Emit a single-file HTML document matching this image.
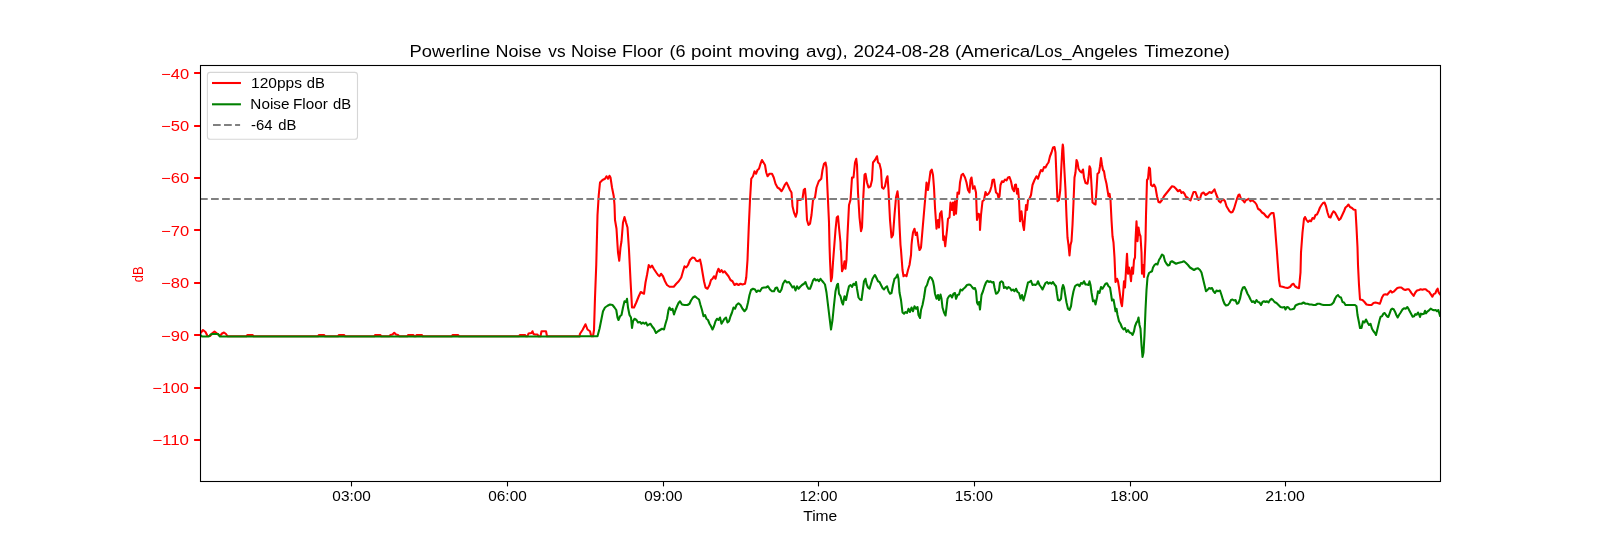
<!DOCTYPE html>
<html><head><meta charset="utf-8"><title>Powerline Noise vs Noise Floor</title>
<style>html,body{margin:0;padding:0;background:#fff;}svg{display:block;will-change:transform;}text{font-family:"Liberation Sans",sans-serif;}</style></head>
<body>
<svg width="1600" height="540" viewBox="0 0 1600 540">
<rect x="0" y="0" width="1600" height="540" fill="#ffffff"/>
<defs><clipPath id="ax"><rect x="200" y="65" width="1240.5" height="416.5"/></clipPath></defs>
<g clip-path="url(#ax)" fill="none" stroke-linejoin="round">
<path d="M200.00,333.75 L203.00,330.00 L205.50,332.00 L207.50,336.00 L210.00,336.00 L212.50,333.00 L214.50,331.50 L217.00,333.50 L220.00,336.00 L222.00,333.50 L224.00,332.50 L226.00,334.00 L227.50,336.25 L246.50,336.25 L247.50,335.00 L252.50,335.00 L253.50,336.25 L318.00,336.25 L319.00,335.00 L324.00,335.00 L325.00,336.25 L338.00,336.25 L339.00,335.00 L344.00,335.00 L345.00,336.25 L374.25,336.25 L375.25,335.00 L380.25,335.00 L381.25,336.25 L389.25,336.25 L390.50,335.00 L392.50,334.50 L394.25,332.75 L396.00,334.50 L398.00,335.00 L399.25,336.25 L407.25,336.25 L408.25,335.00 L413.25,335.00 L414.25,336.25 L415.75,336.25 L416.75,335.00 L421.75,335.00 L422.75,336.25 L451.75,336.25 L452.75,335.00 L458.00,335.00 L459.00,336.25 L519.00,336.25 L520.00,335.00 L525.00,335.00 L526.00,336.25 L527.50,336.25 L528.50,333.50 L531.50,333.00 L532.50,331.25 L533.50,334.00 L535.00,334.50 L537.50,334.50 L538.50,336.25 L540.50,336.25 L541.50,331.25 L546.00,331.25 L547.00,336.25 L579.50,336.25 L580.00,333.75 L582.50,330.00 L585.50,324.25 L587.50,329.50 L590.00,331.25 L591.25,336.25 L593.00,336.25 L594.00,330.00 L595.00,297.50 L596.25,265.00 L597.50,215.00 L598.75,195.00 L600.00,182.50 L602.50,180.00 L605.00,178.75 L606.50,176.25 L608.00,178.75 L609.50,175.75 L610.50,177.50 L612.00,187.50 L613.75,196.25 L614.50,205.00 L615.00,220.00 L616.50,228.75 L617.50,245.00 L618.00,252.50 L619.25,260.75 L620.50,247.50 L621.50,241.25 L623.00,222.50 L624.50,217.00 L626.00,222.50 L627.50,227.50 L628.50,242.50 L629.00,250.00 L630.50,280.00 L632.00,307.50 L634.00,307.50 L636.25,302.50 L638.75,296.25 L640.75,292.00 L642.50,293.00 L644.00,293.75 L645.50,282.50 L647.00,275.00 L648.75,265.00 L650.50,267.50 L652.00,265.50 L653.75,268.75 L656.25,272.50 L658.00,275.00 L659.50,276.25 L661.00,273.75 L663.00,276.25 L665.00,281.25 L667.00,285.00 L669.50,286.75 L673.75,286.75 L676.25,283.75 L678.75,281.25 L681.25,277.50 L683.00,271.25 L684.50,266.25 L686.25,267.50 L688.00,265.00 L690.00,260.00 L692.50,257.50 L694.50,258.00 L696.25,260.75 L698.00,261.25 L700.00,259.50 L701.25,265.00 L702.50,272.50 L704.00,281.25 L705.50,287.50 L707.50,288.75 L709.50,285.00 L711.00,280.00 L712.50,278.75 L714.00,276.25 L715.50,278.75 L717.00,272.50 L718.50,268.75 L720.00,272.00 L721.50,270.00 L723.00,272.50 L724.50,271.25 L726.50,273.75 L728.50,276.25 L730.50,280.00 L732.50,281.25 L734.50,285.00 L736.50,283.75 L738.50,285.00 L740.50,283.75 L742.50,284.50 L745.00,283.75 L746.25,277.50 L747.50,260.00 L748.75,227.50 L750.00,200.00 L751.25,178.75 L753.00,176.25 L754.50,171.25 L756.00,173.75 L757.50,170.00 L759.00,168.75 L760.50,163.75 L762.00,160.00 L763.50,162.50 L765.00,165.00 L766.25,172.50 L767.50,176.25 L769.50,173.75 L772.00,173.75 L773.75,177.50 L775.50,183.75 L777.50,187.50 L779.50,188.75 L781.50,191.25 L783.00,188.75 L785.00,184.50 L786.50,182.50 L788.00,185.50 L790.00,190.00 L791.50,192.50 L792.50,206.25 L794.00,212.50 L795.75,216.75 L797.00,212.50 L797.50,200.00 L800.00,200.00 L802.50,198.75 L803.75,190.00 L805.00,188.75 L806.00,200.00 L807.00,220.00 L808.50,225.00 L810.00,223.75 L811.50,215.00 L813.00,200.00 L815.00,197.50 L816.50,187.50 L818.75,181.25 L821.25,178.75 L822.50,170.00 L824.00,163.75 L825.50,162.50 L826.50,167.50 L827.50,190.00 L829.00,222.50 L829.50,245.00 L830.00,260.00 L831.00,281.25 L832.00,277.50 L833.00,262.50 L833.75,252.50 L835.50,230.00 L836.75,217.50 L838.00,216.25 L839.00,227.50 L840.50,242.50 L840.75,250.00 L841.00,250.00 L842.00,271.25 L843.50,267.50 L844.50,261.25 L845.50,268.75 L846.50,260.00 L846.75,252.50 L847.50,235.00 L849.00,205.00 L850.50,200.00 L852.00,177.50 L853.50,177.50 L855.00,162.50 L856.25,158.75 L857.00,165.00 L858.00,192.50 L859.50,217.50 L861.00,231.25 L862.00,227.50 L863.00,202.50 L864.50,175.00 L865.50,173.75 L867.00,182.50 L868.50,187.50 L870.50,186.25 L872.00,180.00 L873.00,162.50 L875.00,160.00 L877.00,156.25 L878.00,162.50 L879.50,163.75 L881.00,170.00 L882.00,187.50 L883.50,188.75 L885.00,186.25 L886.50,178.75 L887.50,176.25 L888.50,190.00 L890.00,220.00 L891.50,237.50 L893.00,235.00 L894.50,215.00 L896.00,197.50 L897.50,191.25 L898.50,200.00 L899.50,225.00 L900.50,245.00 L901.00,250.00 L902.50,270.00 L903.50,276.25 L905.00,275.00 L906.50,276.25 L908.00,270.00 L909.50,265.00 L911.00,255.00 L911.50,245.00 L912.00,240.00 L913.00,232.50 L914.50,228.75 L915.75,235.00 L917.00,232.50 L918.50,245.00 L919.50,250.00 L920.00,249.50 L921.00,247.50 L922.50,230.00 L924.00,212.50 L925.50,195.00 L926.50,182.50 L928.00,190.00 L929.00,182.50 L930.50,171.25 L931.75,169.50 L933.00,175.00 L934.00,187.50 L935.00,207.50 L936.50,228.75 L938.00,220.00 L939.00,227.50 L940.00,213.75 L941.50,211.25 L942.50,222.50 L943.25,240.00 L944.00,236.25 L944.75,242.50 L945.25,246.25 L946.00,238.75 L947.00,230.00 L948.00,218.75 L949.50,217.50 L950.50,202.50 L952.00,210.00 L953.00,202.50 L954.00,215.00 L955.00,201.25 L956.00,213.75 L957.50,192.50 L959.00,193.75 L960.00,182.50 L961.50,175.00 L963.00,173.75 L965.00,177.50 L966.50,182.50 L968.00,190.00 L969.50,192.50 L970.50,180.00 L971.50,177.50 L973.00,188.75 L974.50,186.25 L976.00,192.50 L977.00,220.00 L978.50,213.75 L979.75,215.00 L980.00,230.00 L981.00,215.00 L982.50,201.25 L984.00,200.00 L985.50,192.00 L987.00,195.00 L988.50,193.75 L990.00,191.25 L991.50,186.25 L992.50,180.00 L994.00,179.50 L995.00,186.25 L996.00,192.50 L997.50,193.75 L998.50,198.00 L999.50,196.25 L1000.50,185.00 L1002.00,181.25 L1003.50,182.00 L1005.00,179.50 L1006.50,180.50 L1008.00,177.50 L1009.50,177.00 L1011.00,181.25 L1012.50,188.75 L1014.00,191.25 L1015.00,185.00 L1016.00,184.50 L1017.00,193.75 L1018.00,188.75 L1019.00,200.00 L1020.00,221.25 L1021.50,211.25 L1023.00,225.00 L1024.00,230.00 L1025.00,217.50 L1026.00,205.00 L1027.00,210.00 L1028.00,200.00 L1029.50,198.75 L1031.00,195.00 L1032.50,185.00 L1034.50,180.00 L1036.50,176.25 L1038.00,178.75 L1039.50,173.75 L1041.00,170.00 L1042.50,171.25 L1044.00,167.00 L1045.50,167.50 L1047.00,164.50 L1048.50,162.50 L1050.00,156.25 L1051.50,152.50 L1053.00,147.50 L1054.50,147.00 L1055.50,152.50 L1056.50,177.50 L1057.50,201.25 L1059.00,200.00 L1060.25,190.00 L1061.25,168.75 L1062.25,150.00 L1062.75,144.50 L1063.25,147.50 L1064.25,167.50 L1065.50,190.00 L1066.50,216.25 L1067.50,237.50 L1068.50,245.00 L1069.50,255.50 L1070.50,245.00 L1071.50,241.25 L1072.50,225.00 L1073.50,202.50 L1074.50,177.50 L1075.50,172.50 L1076.50,160.00 L1077.50,162.50 L1078.50,168.75 L1080.00,171.25 L1081.50,172.50 L1083.00,169.50 L1084.00,177.50 L1085.50,183.00 L1087.50,183.75 L1088.50,177.50 L1089.50,166.25 L1090.50,168.75 L1091.50,185.00 L1092.50,202.50 L1094.00,203.75 L1095.50,204.50 L1096.50,190.00 L1097.50,173.75 L1099.00,172.50 L1100.00,166.25 L1101.00,158.00 L1102.00,165.00 L1103.00,170.00 L1104.00,171.25 L1105.00,177.50 L1106.50,183.75 L1107.50,190.00 L1108.50,196.25 L1109.50,193.75 L1110.50,200.00 L1111.50,220.00 L1112.50,236.25 L1113.50,242.50 L1114.50,257.50 L1115.50,282.00 L1117.00,278.75 L1118.00,281.25 L1119.00,287.50 L1120.00,295.00 L1121.00,302.50 L1122.00,306.25 L1123.00,295.00 L1124.00,281.25 L1125.00,287.50 L1126.00,270.00 L1127.00,253.75 L1128.00,273.75 L1129.00,267.50 L1130.00,272.50 L1131.00,281.25 L1132.00,267.50 L1133.00,273.75 L1134.00,260.00 L1135.00,257.50 L1135.50,240.00 L1136.50,221.25 L1137.50,241.25 L1138.50,227.50 L1139.50,233.75 L1140.50,236.25 L1141.50,252.50 L1142.00,273.75 L1143.00,265.00 L1144.00,277.00 L1144.75,257.50 L1145.50,240.00 L1146.00,215.00 L1147.00,180.00 L1148.00,178.75 L1149.00,167.50 L1150.00,168.75 L1151.00,185.00 L1152.50,186.25 L1154.00,184.50 L1155.50,187.50 L1157.00,196.25 L1158.50,202.00 L1160.00,202.50 L1162.00,200.00 L1164.00,196.25 L1166.00,193.75 L1168.00,191.25 L1170.00,188.75 L1172.00,186.25 L1174.00,186.75 L1176.00,188.75 L1178.00,191.25 L1180.00,190.00 L1181.50,193.00 L1183.00,192.00 L1184.50,193.75 L1186.00,197.00 L1187.50,197.50 L1189.00,199.50 L1190.50,200.50 L1192.00,196.25 L1193.50,192.00 L1195.50,192.00 L1197.00,196.25 L1198.50,200.00 L1200.00,198.75 L1201.50,193.75 L1203.50,192.50 L1205.50,195.00 L1207.50,193.75 L1209.50,192.00 L1211.50,193.00 L1213.00,191.25 L1214.50,189.25 L1216.00,193.75 L1217.50,197.50 L1219.00,201.25 L1220.50,202.50 L1222.00,200.00 L1223.50,199.50 L1225.00,201.25 L1226.50,206.25 L1228.00,208.75 L1229.50,211.25 L1231.00,212.50 L1232.50,212.00 L1234.00,208.75 L1235.50,203.75 L1237.00,198.75 L1238.50,195.00 L1239.50,194.50 L1241.00,198.75 L1243.00,200.50 L1244.50,202.50 L1246.00,200.00 L1247.50,199.50 L1249.00,198.75 L1250.50,201.25 L1252.00,200.00 L1253.50,201.25 L1255.00,202.50 L1256.50,204.50 L1258.00,208.75 L1260.00,210.00 L1262.00,212.50 L1264.00,213.75 L1266.00,216.25 L1268.00,217.50 L1269.50,215.00 L1271.50,213.00 L1273.50,213.00 L1274.50,220.00 L1276.00,240.00 L1277.00,252.50 L1277.50,260.00 L1279.00,280.00 L1280.00,286.25 L1282.50,286.75 L1285.00,287.50 L1287.50,288.00 L1290.00,287.00 L1292.00,284.50 L1293.50,283.75 L1295.00,286.25 L1297.00,287.50 L1299.00,288.25 L1300.50,272.50 L1301.00,252.50 L1302.50,232.50 L1304.00,218.75 L1305.00,217.00 L1306.50,220.00 L1308.00,222.00 L1309.50,220.50 L1311.00,221.25 L1312.50,218.00 L1314.00,218.75 L1315.50,215.00 L1317.00,214.50 L1318.50,211.25 L1320.00,207.50 L1321.50,205.00 L1323.00,203.00 L1324.50,202.50 L1326.00,206.25 L1327.50,212.50 L1329.00,217.00 L1330.50,217.50 L1332.00,213.75 L1333.50,211.25 L1335.00,212.50 L1337.00,216.25 L1339.00,220.00 L1340.50,218.75 L1342.50,214.50 L1344.00,211.25 L1345.50,207.50 L1347.00,206.25 L1348.50,204.50 L1350.00,207.00 L1352.00,208.00 L1353.50,209.50 L1355.50,210.00 L1356.50,227.50 L1357.50,247.50 L1358.00,265.00 L1359.00,285.00 L1360.00,299.50 L1362.50,300.00 L1364.50,302.00 L1366.50,304.50 L1369.00,305.00 L1371.50,305.00 L1373.50,303.00 L1375.50,302.50 L1377.50,303.00 L1379.75,303.75 L1380.67,301.67 L1382.00,297.50 L1383.67,294.67 L1385.33,294.17 L1387.33,294.67 L1389.00,292.50 L1390.67,290.83 L1392.00,292.50 L1393.67,291.67 L1395.33,290.00 L1397.33,288.00 L1399.33,287.50 L1401.33,287.50 L1403.33,289.17 L1405.33,290.00 L1407.33,289.17 L1408.67,289.17 L1410.00,290.83 L1411.67,293.33 L1413.67,295.83 L1415.33,292.50 L1417.00,290.50 L1419.00,290.00 L1420.67,289.17 L1422.33,289.67 L1424.00,289.17 L1425.67,289.17 L1427.33,290.83 L1429.00,291.67 L1430.67,294.17 L1432.33,296.67 L1433.67,294.17 L1435.33,293.33 L1436.67,290.00 L1437.67,288.67 L1438.67,292.50 L1440.00,294.17" stroke="#ff0000" stroke-width="2.08" stroke-linecap="square"/>
<path d="M200.00,334.50 L202.00,336.50 L209.00,336.50 L210.50,334.50 L212.50,334.00 L218.00,334.00 L220.00,336.50 L580.00,336.50 L580.00,336.25 L597.50,336.25 L599.50,328.75 L601.25,320.00 L603.00,311.25 L605.00,307.50 L607.50,305.75 L610.00,304.50 L612.50,305.00 L614.50,307.50 L616.25,310.00 L617.50,317.50 L618.50,320.00 L620.00,316.25 L621.50,315.00 L623.00,307.50 L624.50,301.25 L626.00,302.00 L627.00,298.75 L628.00,307.50 L629.50,315.00 L631.00,317.50 L632.00,328.00 L633.00,321.25 L634.50,318.75 L636.50,320.00 L638.00,322.50 L640.00,322.00 L641.50,323.75 L643.00,322.50 L644.50,323.75 L646.00,322.50 L647.50,325.50 L649.00,324.50 L650.50,323.75 L652.00,326.25 L654.00,328.75 L656.00,333.00 L658.00,331.25 L660.00,330.00 L662.00,328.75 L664.00,329.50 L665.50,323.75 L667.00,318.75 L668.50,310.00 L669.50,307.50 L671.00,310.00 L672.50,308.75 L674.00,314.50 L675.50,310.00 L677.00,306.25 L678.50,303.00 L680.00,301.25 L682.00,304.50 L684.50,305.00 L687.50,305.00 L689.50,303.75 L691.00,300.50 L693.00,297.50 L695.00,296.25 L697.00,298.00 L699.00,299.50 L700.50,305.00 L702.00,310.00 L703.50,316.25 L705.00,315.00 L706.50,318.75 L708.00,320.00 L709.50,323.75 L711.00,326.25 L712.50,329.50 L714.00,326.25 L715.50,321.25 L717.00,318.75 L718.50,320.00 L720.00,317.50 L721.50,323.75 L723.00,321.25 L724.50,318.75 L726.00,317.50 L727.50,322.50 L729.00,321.25 L730.50,316.25 L732.00,312.50 L733.50,307.50 L735.00,308.75 L736.50,305.00 L738.50,303.25 L740.50,305.00 L742.50,308.75 L744.50,311.25 L746.50,308.75 L748.00,302.50 L749.50,295.00 L751.00,290.00 L753.00,288.75 L755.00,289.50 L756.50,292.00 L758.00,290.50 L760.00,291.25 L762.00,288.00 L764.00,287.50 L766.00,287.50 L768.00,286.25 L770.00,289.50 L772.00,291.25 L774.00,291.25 L775.50,288.00 L777.00,287.50 L778.50,291.25 L780.00,292.00 L781.50,289.50 L783.00,283.75 L785.00,280.50 L787.00,282.50 L789.00,282.00 L791.00,285.00 L792.50,287.50 L794.00,286.25 L795.50,290.50 L797.00,286.25 L798.50,288.75 L800.00,287.00 L802.00,285.00 L804.00,283.75 L805.50,282.00 L807.00,286.25 L808.50,288.75 L810.00,288.75 L811.50,285.00 L813.00,280.50 L814.50,278.75 L816.00,280.50 L817.50,279.50 L819.00,281.25 L820.50,278.75 L822.00,280.75 L823.50,282.50 L825.00,284.50 L826.50,292.50 L828.00,305.00 L829.50,317.50 L831.00,329.50 L832.50,320.00 L834.00,305.00 L835.50,291.25 L837.00,285.00 L838.00,283.75 L839.00,293.75 L840.50,296.25 L842.00,302.50 L843.00,304.50 L844.50,296.25 L846.00,300.00 L847.50,292.50 L849.00,286.25 L850.50,285.00 L852.00,287.00 L853.50,283.75 L855.00,285.00 L856.00,282.00 L857.00,288.75 L858.50,297.50 L860.00,299.50 L861.50,300.00 L862.50,292.50 L864.00,281.25 L865.50,278.75 L866.50,283.75 L868.00,287.50 L869.50,288.75 L871.00,283.75 L872.50,278.75 L874.00,276.25 L875.00,275.00 L876.50,278.00 L878.00,281.25 L879.50,282.00 L881.00,285.00 L882.50,288.00 L884.00,289.50 L885.50,287.50 L887.00,286.25 L888.50,291.25 L890.00,293.75 L891.50,293.00 L893.00,285.00 L894.50,278.75 L896.00,277.50 L897.50,274.50 L898.50,278.75 L899.50,292.50 L901.00,300.00 L902.50,312.50 L904.00,313.75 L905.50,312.00 L907.00,313.00 L908.50,308.75 L910.00,312.00 L911.50,307.50 L913.00,311.25 L914.50,306.25 L916.00,308.75 L917.50,307.00 L918.50,315.00 L920.00,318.00 L921.00,310.00 L922.50,305.00 L924.00,297.50 L925.50,287.50 L927.00,285.00 L928.50,280.00 L930.00,277.00 L931.50,278.00 L933.00,281.25 L934.00,286.25 L935.00,293.75 L936.50,298.75 L938.00,295.00 L939.00,300.00 L940.50,294.50 L941.50,298.75 L942.50,307.50 L944.00,312.50 L945.50,315.50 L946.50,307.50 L947.50,298.75 L949.00,296.25 L950.50,295.00 L952.00,297.50 L953.50,293.75 L955.00,293.00 L956.00,298.75 L957.50,295.00 L959.00,294.50 L960.50,289.50 L962.00,290.50 L963.50,288.75 L965.00,287.50 L967.00,285.00 L969.00,284.50 L970.50,285.00 L972.00,287.00 L973.50,288.75 L975.00,288.00 L976.00,291.25 L977.00,302.50 L978.00,304.50 L979.00,302.00 L980.00,309.50 L981.50,295.00 L983.00,291.25 L984.50,286.25 L986.00,282.50 L987.50,280.75 L989.00,282.00 L990.50,281.25 L992.00,282.50 L993.50,282.00 L994.50,287.50 L996.00,293.75 L997.50,293.00 L999.00,290.50 L1000.00,282.50 L1001.50,281.25 L1003.00,282.50 L1004.00,288.00 L1005.50,287.00 L1007.00,288.75 L1008.50,287.00 L1010.00,288.00 L1011.50,290.50 L1013.00,289.50 L1014.50,291.25 L1016.00,288.75 L1017.50,292.00 L1019.00,293.00 L1020.50,298.75 L1022.00,295.00 L1023.50,300.50 L1025.00,295.00 L1026.50,288.75 L1028.00,282.50 L1029.50,282.00 L1031.00,280.75 L1032.50,285.00 L1034.00,284.50 L1035.50,285.00 L1037.00,283.75 L1038.00,281.25 L1039.50,285.00 L1041.00,287.00 L1042.50,289.50 L1044.00,286.25 L1045.50,283.00 L1047.00,282.00 L1048.50,283.75 L1050.00,282.50 L1051.50,283.75 L1053.00,282.00 L1054.50,284.50 L1056.00,286.25 L1057.00,293.75 L1058.00,300.00 L1059.50,300.50 L1061.00,298.75 L1062.00,288.75 L1063.00,285.00 L1064.00,287.50 L1065.00,293.75 L1066.50,302.50 L1068.00,308.75 L1069.50,310.00 L1071.00,306.25 L1072.00,298.75 L1073.50,291.25 L1075.00,286.25 L1076.50,285.00 L1078.00,284.50 L1079.50,286.25 L1081.00,283.00 L1082.50,283.75 L1084.00,281.25 L1085.50,284.50 L1087.00,284.50 L1088.50,285.00 L1089.50,281.25 L1090.50,285.00 L1091.50,292.50 L1093.00,301.25 L1094.50,300.50 L1095.50,304.50 L1097.00,297.50 L1098.00,291.25 L1099.50,293.00 L1101.00,287.00 L1102.50,288.75 L1104.00,286.25 L1105.50,283.75 L1107.00,283.25 L1108.50,286.25 L1110.00,287.50 L1111.00,293.75 L1112.00,300.50 L1113.50,299.50 L1114.50,305.00 L1115.50,311.25 L1116.50,308.75 L1117.50,315.00 L1119.00,321.25 L1120.50,323.75 L1122.00,327.50 L1123.50,329.50 L1125.00,328.00 L1126.50,332.00 L1128.00,330.00 L1129.50,332.50 L1131.00,333.00 L1132.50,335.00 L1134.00,331.25 L1135.00,326.25 L1136.50,322.50 L1137.50,321.25 L1138.50,317.50 L1139.50,325.00 L1140.50,328.75 L1141.50,345.00 L1142.50,357.00 L1143.50,352.50 L1144.50,335.00 L1145.50,310.00 L1146.50,290.00 L1147.50,277.50 L1149.00,273.00 L1150.50,272.00 L1152.00,271.25 L1153.00,267.50 L1154.50,265.00 L1156.00,263.75 L1157.50,264.50 L1159.00,260.00 L1160.50,257.50 L1162.00,254.50 L1163.50,255.50 L1165.00,261.25 L1166.50,263.75 L1168.00,265.50 L1169.50,265.00 L1170.50,262.00 L1172.00,261.25 L1174.00,262.50 L1176.00,263.75 L1178.00,263.00 L1180.00,262.50 L1182.00,262.00 L1184.00,261.25 L1186.00,263.00 L1188.00,265.00 L1190.00,267.50 L1192.00,268.75 L1194.00,270.00 L1196.00,268.75 L1198.00,268.25 L1200.00,270.00 L1201.50,272.50 L1203.00,278.75 L1204.50,285.00 L1206.00,291.25 L1207.50,290.00 L1209.00,288.00 L1210.50,288.75 L1212.00,288.00 L1213.50,291.25 L1215.00,293.00 L1216.50,290.50 L1218.00,291.25 L1220.00,290.50 L1221.50,295.00 L1223.00,300.00 L1224.50,303.75 L1226.00,305.50 L1228.00,305.00 L1229.50,303.00 L1231.00,300.00 L1232.50,299.50 L1234.00,300.50 L1235.50,300.00 L1237.00,303.75 L1238.50,303.00 L1240.00,298.75 L1241.50,291.25 L1243.00,287.50 L1244.50,287.00 L1246.00,290.00 L1247.50,293.75 L1249.00,296.25 L1250.50,299.50 L1252.00,302.00 L1253.50,301.25 L1255.00,303.00 L1256.50,300.00 L1258.00,302.00 L1259.50,302.50 L1261.00,305.00 L1262.50,302.00 L1264.00,301.25 L1265.50,302.00 L1267.00,301.25 L1268.50,302.50 L1270.00,300.00 L1271.50,298.75 L1273.00,300.00 L1274.50,302.00 L1276.50,303.00 L1278.50,305.00 L1280.50,307.00 L1282.50,307.50 L1284.50,307.00 L1285.50,309.50 L1287.00,307.00 L1288.50,307.50 L1290.00,309.50 L1292.00,309.25 L1294.00,308.75 L1295.50,305.50 L1297.50,304.50 L1299.50,303.75 L1301.50,303.75 L1303.50,302.50 L1305.50,303.75 L1307.50,303.75 L1309.50,304.50 L1311.50,304.50 L1313.50,305.00 L1315.50,305.00 L1317.50,303.75 L1319.50,303.75 L1321.50,304.50 L1323.50,305.00 L1325.50,305.00 L1327.50,305.00 L1329.50,305.00 L1331.50,304.50 L1333.50,302.50 L1335.00,298.75 L1336.50,296.25 L1338.00,295.00 L1339.50,297.00 L1341.00,297.50 L1342.50,302.00 L1344.00,302.50 L1345.50,305.00 L1347.50,305.00 L1350.00,305.00 L1352.50,305.00 L1355.00,305.00 L1356.50,306.25 L1357.50,315.00 L1359.00,322.50 L1360.00,328.00 L1361.50,328.00 L1363.00,321.25 L1364.50,322.50 L1366.00,319.50 L1367.50,322.50 L1369.00,325.00 L1370.50,323.75 L1372.00,328.75 L1373.50,331.25 L1375.00,333.00 L1376.00,335.00 L1377.50,328.75 L1379.00,322.50 L1379.75,319.50 L1380.67,316.67 L1382.00,316.33 L1383.33,313.67 L1384.67,313.00 L1386.00,315.00 L1387.33,316.67 L1388.33,317.00 L1389.67,313.33 L1391.00,309.67 L1392.33,308.67 L1393.67,309.17 L1395.00,311.67 L1396.33,315.00 L1397.67,317.50 L1399.00,315.00 L1400.67,312.50 L1402.33,309.67 L1404.00,308.33 L1405.67,308.67 L1407.33,307.00 L1408.67,309.17 L1410.00,311.67 L1411.33,314.17 L1412.67,316.67 L1414.00,316.33 L1415.33,314.17 L1416.67,314.67 L1418.00,312.50 L1419.00,314.17 L1420.00,317.00 L1421.00,313.67 L1422.33,314.17 L1424.00,313.67 L1425.00,310.83 L1426.00,313.33 L1427.33,311.67 L1429.00,310.33 L1430.67,308.67 L1432.33,309.67 L1434.00,310.33 L1435.67,310.00 L1437.00,311.33 L1438.33,310.00 L1440.00,315.83" stroke="#008000" stroke-width="2.08" stroke-linecap="square"/>
<line x1="200" y1="199.00" x2="1440.5" y2="199.00" stroke="#808080" stroke-width="2.08" stroke-dasharray="7.71 3.33"/>
</g>
<rect x="200.5" y="65.5" width="1240" height="416" fill="none" stroke="#000" stroke-width="1.1"/>
<line x1="351.50" y1="481.5" x2="351.50" y2="486.4" stroke="#000" stroke-width="1.1"/>
<line x1="507.50" y1="481.5" x2="507.50" y2="486.4" stroke="#000" stroke-width="1.1"/>
<line x1="663.50" y1="481.5" x2="663.50" y2="486.4" stroke="#000" stroke-width="1.1"/>
<line x1="818.50" y1="481.5" x2="818.50" y2="486.4" stroke="#000" stroke-width="1.1"/>
<line x1="974.50" y1="481.5" x2="974.50" y2="486.4" stroke="#000" stroke-width="1.1"/>
<line x1="1130.50" y1="481.5" x2="1130.50" y2="486.4" stroke="#000" stroke-width="1.1"/>
<line x1="1285.50" y1="481.5" x2="1285.50" y2="486.4" stroke="#000" stroke-width="1.1"/>
<line x1="194.1" y1="73.00" x2="200" y2="73.00" stroke="#ff0000" stroke-width="2"/>
<line x1="194.1" y1="126.00" x2="200" y2="126.00" stroke="#ff0000" stroke-width="2"/>
<line x1="194.1" y1="178.00" x2="200" y2="178.00" stroke="#ff0000" stroke-width="2"/>
<line x1="194.1" y1="230.00" x2="200" y2="230.00" stroke="#ff0000" stroke-width="2"/>
<line x1="194.1" y1="283.00" x2="200" y2="283.00" stroke="#ff0000" stroke-width="2"/>
<line x1="194.1" y1="335.00" x2="200" y2="335.00" stroke="#ff0000" stroke-width="2"/>
<line x1="194.1" y1="388.00" x2="200" y2="388.00" stroke="#ff0000" stroke-width="2"/>
<line x1="194.1" y1="440.00" x2="200" y2="440.00" stroke="#ff0000" stroke-width="2"/>
<text transform="translate(143.1,274.4) rotate(-90)" font-size="14.2" text-anchor="middle" textLength="15.7" lengthAdjust="spacingAndGlyphs" fill="#ff0000">dB</text>
<rect x="207.4" y="72.4" width="150.1" height="66.9" rx="2.8" ry="2.8" fill="#ffffff" fill-opacity="0.8" stroke="#cccccc" stroke-opacity="0.8" stroke-width="1.1"/>
<line x1="213.04" y1="83.0" x2="239.9" y2="83.0" stroke="#ff0000" stroke-width="2.08" stroke-linecap="square"/>
<line x1="213.04" y1="104.3" x2="239.9" y2="104.3" stroke="#008000" stroke-width="2.08" stroke-linecap="square"/>
<line x1="213" y1="125.05" x2="240.1" y2="125.05" stroke="#808080" stroke-width="2.08" stroke-dasharray="7.71 3.33"/>
<text x="409.62" y="57.0" font-size="17.1" textLength="80.5" lengthAdjust="spacingAndGlyphs" fill="#000">Powerline</text>
<text x="495.57" y="57.0" font-size="17.1" textLength="45.92" lengthAdjust="spacingAndGlyphs" fill="#000">Noise</text>
<text x="548.27" y="57.0" font-size="17.1" textLength="17.28" lengthAdjust="spacingAndGlyphs" fill="#000">vs</text>
<text x="570.94" y="57.0" font-size="17.1" textLength="45.7" lengthAdjust="spacingAndGlyphs" fill="#000">Noise</text>
<text x="622.04" y="57.0" font-size="17.1" textLength="41.01" lengthAdjust="spacingAndGlyphs" fill="#000">Floor</text>
<text x="669.4" y="57.0" font-size="17.1" textLength="16.03" lengthAdjust="spacingAndGlyphs" fill="#000">(6</text>
<text x="691.07" y="57.0" font-size="17.1" textLength="40.62" lengthAdjust="spacingAndGlyphs" fill="#000">point</text>
<text x="738.39" y="57.0" font-size="17.1" textLength="61.13" lengthAdjust="spacingAndGlyphs" fill="#000">moving</text>
<text x="805.94" y="57.0" font-size="17.1" textLength="41.76" lengthAdjust="spacingAndGlyphs" fill="#000">avg),</text>
<text x="853.5" y="57.0" font-size="17.1" textLength="95.84" lengthAdjust="spacingAndGlyphs" fill="#000">2024-08-28</text>
<text x="954.93" y="57.0" font-size="17.1" textLength="80.62" lengthAdjust="spacingAndGlyphs" fill="#000">(America/</text>
<text x="1035.33" y="57.0" font-size="17.1" textLength="36.19" lengthAdjust="spacingAndGlyphs" fill="#000">Los_</text>
<text x="1072.07" y="57.0" font-size="17.1" textLength="65.41" lengthAdjust="spacingAndGlyphs" fill="#000">Angeles</text>
<text x="1144.15" y="57.0" font-size="17.1" textLength="85.79" lengthAdjust="spacingAndGlyphs" fill="#000">Timezone)</text>
<text x="251.05" y="88.0" font-size="14.2" textLength="50.9" lengthAdjust="spacingAndGlyphs" fill="#000">120pps</text>
<text x="306.83" y="88.0" font-size="14.2" textLength="18.11" lengthAdjust="spacingAndGlyphs" fill="#000">dB</text>
<text x="250.33" y="109.0" font-size="14.2" textLength="39.12" lengthAdjust="spacingAndGlyphs" fill="#000">Noise</text>
<text x="292.98" y="109.0" font-size="14.2" textLength="34.8" lengthAdjust="spacingAndGlyphs" fill="#000">Floor</text>
<text x="332.93" y="109.0" font-size="14.2" textLength="18.11" lengthAdjust="spacingAndGlyphs" fill="#000">dB</text>
<text x="251.01" y="130.0" font-size="14.2" textLength="21.5" lengthAdjust="spacingAndGlyphs" fill="#000">-64</text>
<text x="278.23" y="130.0" font-size="14.2" textLength="18.11" lengthAdjust="spacingAndGlyphs" fill="#000">dB</text>
<text x="803.23" y="521.0" font-size="14.2" textLength="34.04" lengthAdjust="spacingAndGlyphs" fill="#000">Time</text>
<text x="332.33" y="501.0" font-size="14.2" textLength="38.51" lengthAdjust="spacingAndGlyphs" fill="#000">03:00</text>
<text x="488.28" y="501.0" font-size="14.2" textLength="38.49" lengthAdjust="spacingAndGlyphs" fill="#000">06:00</text>
<text x="644.23" y="501.0" font-size="14.2" textLength="38.35" lengthAdjust="spacingAndGlyphs" fill="#000">09:00</text>
<text x="799.4" y="501.0" font-size="14.2" textLength="37.99" lengthAdjust="spacingAndGlyphs" fill="#000">12:00</text>
<text x="954.85" y="501.0" font-size="14.2" textLength="38.21" lengthAdjust="spacingAndGlyphs" fill="#000">15:00</text>
<text x="1110.3" y="501.0" font-size="14.2" textLength="38.35" lengthAdjust="spacingAndGlyphs" fill="#000">18:00</text>
<text x="1265.16" y="501.0" font-size="14.2" textLength="39.68" lengthAdjust="spacingAndGlyphs" fill="#000">21:00</text>
<text x="161.1" y="79.0" font-size="14.2" textLength="28.02" lengthAdjust="spacingAndGlyphs" fill="#ff0000">−40</text>
<text x="161.1" y="131.0" font-size="14.2" textLength="28.02" lengthAdjust="spacingAndGlyphs" fill="#ff0000">−50</text>
<text x="161.1" y="183.0" font-size="14.2" textLength="28.02" lengthAdjust="spacingAndGlyphs" fill="#ff0000">−60</text>
<text x="161.1" y="236.0" font-size="14.2" textLength="28.02" lengthAdjust="spacingAndGlyphs" fill="#ff0000">−70</text>
<text x="161.1" y="288.0" font-size="14.2" textLength="28.02" lengthAdjust="spacingAndGlyphs" fill="#ff0000">−80</text>
<text x="161.1" y="341.0" font-size="14.2" textLength="28.02" lengthAdjust="spacingAndGlyphs" fill="#ff0000">−90</text>
<text x="152.16" y="393.0" font-size="14.2" textLength="36.78" lengthAdjust="spacingAndGlyphs" fill="#ff0000">−100</text>
<text x="152.16" y="445.0" font-size="14.2" textLength="36.8" lengthAdjust="spacingAndGlyphs" fill="#ff0000">−110</text>
</svg>
</body></html>
